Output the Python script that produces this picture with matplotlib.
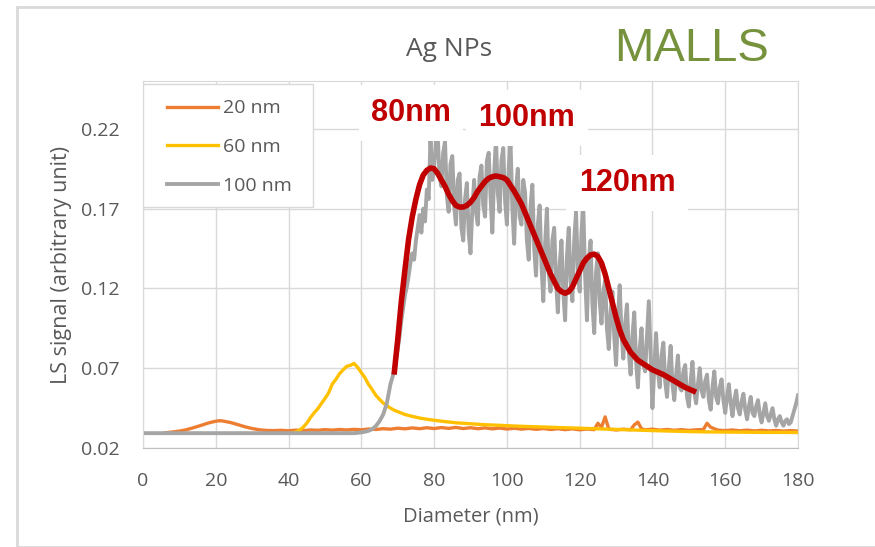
import matplotlib
matplotlib.use("Agg")
import matplotlib.pyplot as plt
from matplotlib.patches import Rectangle

plt.rcParams['font.family'] = ['Open Sans', 'DejaVu Sans']

# 20 nm sample
orange_x = [6, 8, 10, 12, 14, 16, 18, 20, 21, 22, 24, 26, 28, 30, 32, 34, 36, 38, 40, 42, 44, 46, 48, 50,
            52, 54, 56, 58, 60, 62, 64, 66, 68, 70, 72, 74, 76, 78, 80, 82, 84, 86, 88, 90, 92, 94, 96, 98,
            100, 102, 104, 106, 108, 110, 112, 114, 116, 118, 120, 122, 124, 125, 126, 127, 128, 130, 132,
            134, 135, 136, 137, 138, 140, 142, 144, 146, 148, 150, 152, 154, 155, 156, 158, 160, 162, 164,
            166, 168, 170, 172, 174, 176, 178, 180]
orange_y = [0.0295, 0.0300, 0.0306, 0.0315, 0.0328, 0.0342, 0.0357, 0.0368, 0.0371, 0.0369, 0.0360,
            0.0347, 0.0333, 0.0322, 0.0314, 0.0310, 0.0309, 0.0311, 0.0308, 0.0312, 0.0309, 0.0313,
            0.0311, 0.0315, 0.0312, 0.0316, 0.0313, 0.0317, 0.0314, 0.0319, 0.0316, 0.0321, 0.0318,
            0.0324, 0.0320, 0.0326, 0.0321, 0.0327, 0.0322, 0.0328, 0.0323, 0.0329, 0.0322, 0.0327,
            0.0321, 0.0326, 0.0320, 0.0325, 0.0319, 0.0324, 0.0318, 0.0323, 0.0317, 0.0322, 0.0316,
            0.0321, 0.0315, 0.0320, 0.0314, 0.0319, 0.0315, 0.0355, 0.0330, 0.0395, 0.0318, 0.0313,
            0.0318, 0.0314, 0.0345, 0.0362, 0.0320, 0.0314, 0.0318, 0.0312, 0.0316, 0.0311, 0.0315,
            0.0310, 0.0314, 0.0316, 0.0355, 0.0330, 0.0312, 0.0309, 0.0313, 0.0308, 0.0312, 0.0307,
            0.0311, 0.0307, 0.0310, 0.0306, 0.0309, 0.0306]

# 60 nm sample
yellow_x = [41, 42, 43, 44, 45, 46, 47, 48, 49, 50, 51, 52, 53, 54, 55, 56, 57, 58, 59, 60, 61, 62, 63,
            64, 65, 66, 67, 68, 69, 70, 72, 74, 76, 78, 80, 82, 84, 86, 88, 90, 92, 94, 96, 98, 100, 104,
            108, 112, 116, 120, 124, 128, 132, 136, 140, 145, 150, 155, 160, 165, 170, 175, 180]
yellow_y = [0.0295, 0.0300, 0.0312, 0.0330, 0.0355, 0.0390, 0.0420, 0.0445, 0.0478, 0.0510, 0.0545,
            0.0600, 0.0630, 0.0665, 0.0690, 0.0712, 0.0718, 0.0730, 0.0705, 0.0672, 0.0640, 0.0598,
            0.0565, 0.0530, 0.0505, 0.0482, 0.0465, 0.0450, 0.0437, 0.0428, 0.0410, 0.0398, 0.0388,
            0.0380, 0.0374, 0.0368, 0.0363, 0.0358, 0.0355, 0.0352, 0.0349, 0.0346, 0.0344, 0.0342,
            0.0340, 0.0336, 0.0333, 0.0330, 0.0327, 0.0324, 0.0321, 0.0318, 0.0315, 0.0312, 0.0309,
            0.0306, 0.0303, 0.0301, 0.0300, 0.0299, 0.0298, 0.0298, 0.0297]

# 100 nm sample: flat start, 1 nm steps 58-69, then 0.5 nm steps 70-180
gray_x = [0] + list(range(58, 70)) + [70 + 0.5 * i for i in range(221)]
gray_y = [0.0293,
          0.0293, 0.0295, 0.0298, 0.0302, 0.0308, 0.0318, 0.0338, 0.0368, 0.0410, 0.0480, 0.0600, 0.0680,
          0.082, 0.090, 0.100, 0.108, 0.116, 0.121, 0.128, 0.136, 0.142, 0.138,
          0.150, 0.158, 0.166, 0.155, 0.170, 0.162, 0.182, 0.176, 0.214, 0.188,
          0.196, 0.212, 0.215, 0.190, 0.184, 0.205, 0.212, 0.178, 0.168, 0.198,
          0.203, 0.172, 0.160, 0.188, 0.192, 0.158, 0.150, 0.176, 0.186, 0.155,
          0.142, 0.170, 0.188, 0.168, 0.160, 0.190, 0.197, 0.172, 0.165, 0.200,
          0.205, 0.178, 0.155, 0.192, 0.214, 0.180, 0.168, 0.200, 0.208, 0.175,
          0.160, 0.195, 0.212, 0.170, 0.148, 0.182, 0.195, 0.165, 0.160, 0.188,
          0.180, 0.150, 0.138, 0.172, 0.185, 0.145, 0.128, 0.160, 0.172, 0.135,
          0.112, 0.148, 0.170, 0.130, 0.118, 0.150, 0.158, 0.125, 0.105, 0.135,
          0.150, 0.118, 0.100, 0.140, 0.158, 0.125, 0.112, 0.150, 0.168, 0.132,
          0.118, 0.155, 0.170, 0.128, 0.100, 0.138, 0.150, 0.110, 0.092, 0.130,
          0.142, 0.112, 0.098, 0.118, 0.125, 0.095, 0.082, 0.105, 0.118, 0.090,
          0.072, 0.100, 0.122, 0.092, 0.076, 0.098, 0.110, 0.080, 0.066, 0.090,
          0.105, 0.075, 0.058, 0.082, 0.095, 0.072, 0.068, 0.090, 0.112, 0.078,
          0.045, 0.070, 0.092, 0.068, 0.058, 0.078, 0.086, 0.062, 0.052, 0.070,
          0.084, 0.060, 0.050, 0.066, 0.078, 0.058, 0.056, 0.068, 0.072, 0.052,
          0.046, 0.062, 0.074, 0.055, 0.048, 0.060, 0.070, 0.056, 0.052, 0.062,
          0.066, 0.050, 0.044, 0.058, 0.068, 0.052, 0.048, 0.058, 0.063, 0.050,
          0.042, 0.052, 0.060, 0.048, 0.040, 0.050, 0.056, 0.045, 0.041, 0.049,
          0.054, 0.044, 0.038, 0.046, 0.052, 0.042, 0.040, 0.046, 0.050, 0.041,
          0.036, 0.042, 0.048, 0.040, 0.037, 0.041, 0.045, 0.038, 0.034, 0.038,
          0.040, 0.036, 0.034, 0.037, 0.038, 0.035, 0.036, 0.040, 0.044, 0.048,
          0.053]

# hand-drawn fit over the 100 nm data
fit_x = [69, 70, 71, 72, 73, 74, 75, 76, 77, 78, 79, 80, 81, 82, 83, 84, 85, 86, 87, 88, 89, 90, 91, 92,
         93, 94, 95, 96, 97, 98, 99, 100, 102, 104, 106, 108, 110, 112, 114, 115, 116, 117, 118, 119,
         120, 121, 122, 123, 124, 125, 126, 127, 128, 129, 130, 131, 132, 134, 136, 138, 140, 143, 146,
         149, 152]
fit_y = [0.066, 0.088, 0.112, 0.132, 0.151, 0.165, 0.176, 0.185, 0.191, 0.194, 0.1955, 0.195, 0.192,
         0.188, 0.184, 0.179, 0.175, 0.172, 0.171, 0.171, 0.172, 0.174, 0.177, 0.181, 0.184, 0.187,
         0.189, 0.190, 0.1905, 0.190, 0.1895, 0.188, 0.181, 0.173, 0.162, 0.151, 0.140, 0.129, 0.120,
         0.118, 0.117, 0.118, 0.121, 0.126, 0.131, 0.136, 0.139, 0.141, 0.1415, 0.140, 0.136, 0.129,
         0.120, 0.111, 0.102, 0.094, 0.088, 0.080, 0.075, 0.072, 0.069, 0.066, 0.062, 0.058, 0.055]

peak_labels = ['80nm', '100nm', '120nm']
peak_label_pos = [(411, 113), (527, 118), (627, 183)]  # figure pixels

x_ticks = list(range(0, 181, 20))
y_ticks = [0.02, 0.07, 0.12, 0.17, 0.22]

W, H = 875, 547
fig = plt.figure(figsize=(8.75, 5.47), dpi=100)
fig.patches.append(Rectangle((17 / W, 0), 1.2, 1 - 7 / H, transform=fig.transFigure,
                             facecolor='none', edgecolor='#D9D9D9', linewidth=2))

ax = fig.add_axes([143 / W, 1 - 448 / H, (798 - 143) / W, (448 - 81) / H])
ax.plot(orange_x, orange_y, color='#ED7D31', lw=2.4, label='20 nm')
ax.plot(yellow_x, yellow_y, color='#FFC000', lw=2.4, label='60 nm')
ax.plot(gray_x, gray_y, color='#A5A5A5', lw=2.8, label='100 nm')
ax.plot(fit_x, fit_y, color='#C00000', lw=4, solid_capstyle='butt', zorder=5)

ax.set_xlim(0, 180)
ax.set_ylim(0.02, 0.25)
ax.set_xticks(x_ticks)
ax.set_yticks(y_ticks)
ax.set_yticklabels([f'{v:.2f}' for v in y_ticks])
ax.grid(True, color='#D9D9D9', lw=1)
ax.set_axisbelow(True)
ax.tick_params(length=0, labelsize=14, colors='#595959')
ax.tick_params(axis='x', pad=17)
ax.tick_params(axis='y', pad=17)
for s in ax.spines.values():
    s.set_color('#D9D9D9')
ax.spines['bottom'].set_color('#BFBFBF')

ax.set_xlabel('Diameter (nm)', fontsize=14.5, color='#595959')
ax.xaxis.set_label_coords(0.5, -0.16)
ax.set_ylabel('LS signal (arbitrary unit)', fontsize=15.5, color='#595959')
ax.yaxis.set_label_coords(-0.108, 0.5)

# legend box drawn separately so its padding can match the reference
ax.add_patch(Rectangle((0, 0.657), 0.2595, 0.335, transform=ax.transAxes, facecolor='white',
                       edgecolor='#D9D9D9', lw=1, zorder=4.9))
leg = ax.legend(loc='upper left', bbox_to_anchor=(0.0115, 0.995), borderaxespad=0, fontsize=14,
                handlelength=2.6, handletextpad=0.3, labelspacing=1.06, borderpad=0.85,
                frameon=False)
for t in leg.get_texts():
    t.set_color('#595959')

fig.text(449 / W, 1 - 50 / H, 'Ag NPs', fontsize=19, color='#595959', ha='center', va='center')
fig.text(691 / W, 1 - 49 / H, 'MALLS', fontsize=34, color='#76923C', ha='center', va='center',
         family='Liberation Sans')

for lab, (px, py) in zip(peak_labels, peak_label_pos):
    fig.text(px / W, 1 - py / H, lab, fontsize=22, fontweight='bold', color='#C00000',
             ha='center', va='center', family='Liberation Sans', zorder=10,
             bbox=dict(facecolor='white', edgecolor='none', pad=9))

fig.savefig('out.png', dpi=100)
